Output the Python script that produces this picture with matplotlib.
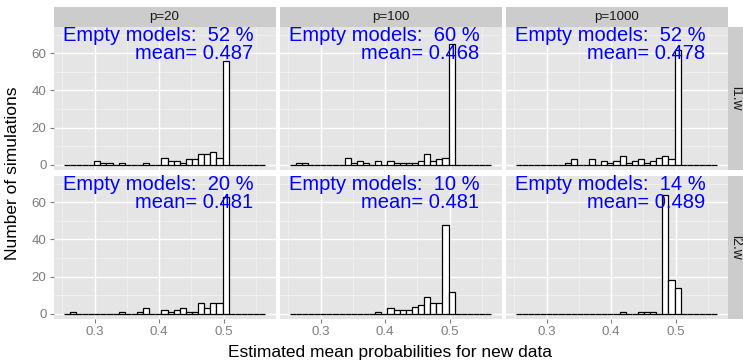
import numpy as np
import matplotlib
matplotlib.use("Agg")
import matplotlib.pyplot as plt
from matplotlib.patches import Rectangle

plt.rcParams['font.family'] = ['Liberation Sans', 'DejaVu Sans']

# histogram bins (shared x scale)
bin_start = 0.2518
bin_width = 0.00948
n_bins = 33

col_labels = ["p=20", "p=100", "p=1000"]
row_labels = ["l1.w", "l2.w"]

# counts per bin, row l1.w
p20_l1 = [0, 0, 0, 0, 0, 2, 1, 1, 0, 1, 0, 0, 0, 1, 0, 0, 4, 2, 2, 1, 3, 3, 6, 6, 7, 4, 56, 0, 0, 0, 0, 0, 0]
p100_l1 = [0, 1, 1, 0, 0, 0, 0, 0, 0, 4, 1, 2, 1, 0, 2, 0, 2, 1, 1, 1, 1, 2, 6, 2, 3, 4, 65, 0, 0, 0, 0, 0, 0]
p1000_l1 = [0, 0, 0, 0, 0, 0, 0, 0, 1, 3, 0, 0, 3, 0, 2, 1, 2, 5, 1, 2, 3, 1, 2, 4, 5, 3, 62, 0, 0, 0, 0, 0, 0]
# counts per bin, row l2.w
p20_l2 = [0, 1, 0, 0, 0, 0, 0, 0, 0, 1, 0, 0, 1, 3, 0, 0, 2, 1, 2, 3, 1, 1, 6, 3, 6, 6, 63, 0, 0, 0, 0, 0, 0]
p100_l2 = [0, 0, 0, 0, 0, 0, 0, 0, 0, 0, 0, 0, 0, 0, 1, 0, 3, 2, 2, 2, 4, 5, 9, 6, 6, 48, 12, 0, 0, 0, 0, 0, 0]
p1000_l2 = [0, 0, 0, 0, 0, 0, 0, 0, 0, 0, 0, 0, 0, 0, 0, 0, 0, 1, 0, 0, 1, 1, 1, 0, 64, 18, 14, 0, 0, 0, 0, 0, 0]

counts = [[p20_l1, p100_l1, p1000_l1], [p20_l2, p100_l2, p1000_l2]]

empty_pct = [[52, 60, 52], [20, 10, 14]]
mean_prob = [[0.487, 0.468, 0.478], [0.481, 0.481, 0.489]]

x_ticks = [0.3, 0.4, 0.5]
x_minor = [0.25, 0.35, 0.45, 0.55]
y_ticks = [0, 20, 40, 60]
y_minor = [10, 30, 50, 70]


W, H = 743, 361
fig = plt.figure(figsize=(W / 100, H / 100), dpi=100)

col_left = [53.5, 279.5, 505.5]
panel_w = 222
row_top = [27, 176]
panel_h = 143
strip_h = 20
strip_w = 15

edges = bin_start + bin_width * np.arange(n_bins + 1)
span = edges[-1] - edges[0]
xlim = (edges[0] - 0.05 * span, edges[-1] + 0.05 * span)
ylim = (-2.7, 74.1)

grey50 = "#7F7F7F"

for r in range(2):
    for c in range(3):
        x0 = col_left[c] / W
        y0 = 1 - (row_top[r] + panel_h) / H
        ax = fig.add_axes([x0, y0, panel_w / W, panel_h / H])
        ax.set_facecolor("#E5E5E5")
        for s in ax.spines.values():
            s.set_visible(False)
        ax.set_xlim(xlim)
        ax.set_ylim(ylim)
        for v in x_minor:
            ax.axvline(v, color="#F2F2F2", lw=0.5, zorder=0)
        for v in y_minor:
            ax.axhline(v, color="#F2F2F2", lw=0.5, zorder=0)
        for v in x_ticks:
            ax.axvline(v, color="white", lw=1.0, zorder=0)
        for v in y_ticks:
            ax.axhline(v, color="white", lw=1.0, zorder=0)

        ax.bar(edges[:-1], counts[r][c], width=bin_width, align="edge",
               color="white", edgecolor="black", linewidth=0.9, zorder=2)

        ax.text(0.546, 64.6, "Empty models:  %d %%\nmean= %.3f" % (empty_pct[r][c], mean_prob[r][c]),
                ha="right", va="center", multialignment="right", color="blue",
                fontsize=14.5, linespacing=0.92, zorder=3)

        ax.set_xticks(x_ticks)
        ax.set_yticks(y_ticks)
        ax.tick_params(length=3, color=grey50, width=0.8, labelcolor=grey50,
                       labelsize=9.6, pad=2)
        if r == 1:
            ax.set_xticklabels(["%.1f" % v for v in x_ticks])
        else:
            ax.tick_params(axis="x", length=0, labelbottom=False)
        if c == 0:
            ax.set_yticklabels([str(v) for v in y_ticks])
        else:
            ax.tick_params(axis="y", length=0, labelleft=False)

# top strips
for c in range(3):
    x0 = col_left[c] / W
    y0 = 1 - row_top[0] / H
    fig.patches.append(Rectangle((x0, y0), panel_w / W, strip_h / H, transform=fig.transFigure,
                                 facecolor="#CCCCCC", edgecolor="none"))
    fig.text(x0 + panel_w / W / 2, y0 + strip_h / H / 2, col_labels[c], ha="center", va="center",
             fontsize=9.6, color="#1A1A1A")

# right strips
for r in range(2):
    x0 = (col_left[2] + panel_w) / W
    y0 = 1 - (row_top[r] + panel_h) / H
    fig.patches.append(Rectangle((x0, y0), strip_w / W, panel_h / H, transform=fig.transFigure,
                                 facecolor="#CCCCCC", edgecolor="none"))
    fig.text(x0 + strip_w / W / 2 + 0.001, y0 + panel_h / H / 2, row_labels[r], ha="center", va="center",
             rotation=-90, fontsize=10, color="#1A1A1A")

fig.text((col_left[0] + col_left[2] + panel_w) / 2 / W, 1 - 352 / H,
         "Estimated mean probabilities for new data", ha="center", va="center", fontsize=12.5)
fig.text(13 / W, 1 - (row_top[0] + row_top[1] + panel_h) / 2 / H,
         "Number of simulations", ha="center", va="center", rotation=90, fontsize=12.5)

fig.savefig("out.png", dpi=100, facecolor="white")
